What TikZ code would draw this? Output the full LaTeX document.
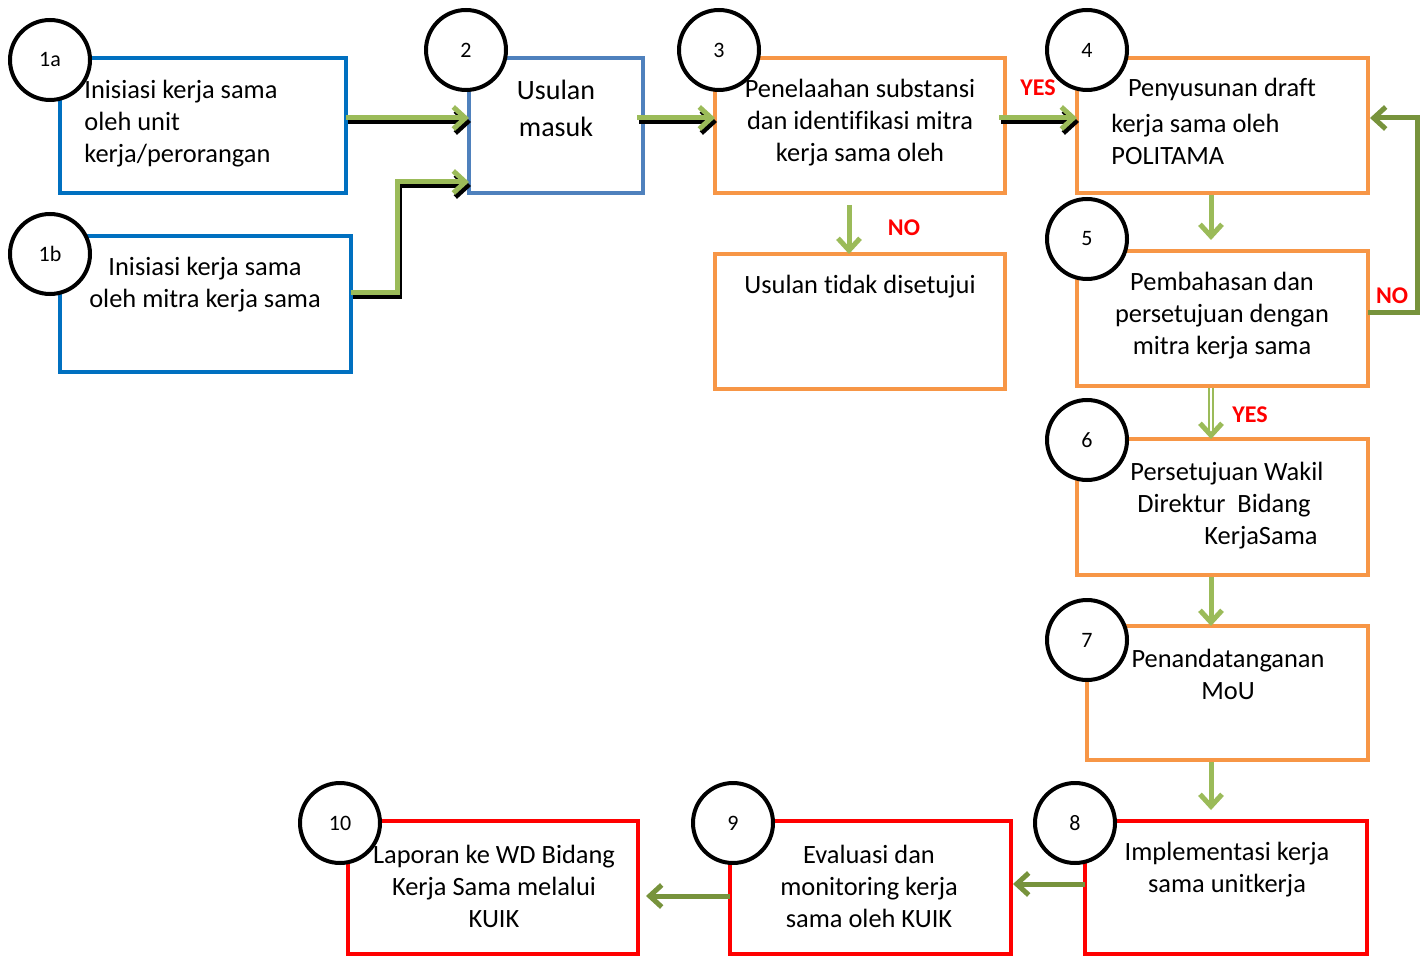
\documentclass[tikz,border=0pt]{standalone}
\usepackage{fontspec}
\setmainfont{Carlito}[Ligatures=NoCommon]
\usetikzlibrary{arrows.meta}
\definecolor{cblue}{HTML}{0070C0}
\definecolor{csteel}{HTML}{4F81BD}
\definecolor{corange}{HTML}{F79646}
\definecolor{cred}{HTML}{FF0000}
\definecolor{lgreen}{HTML}{9BBB59}
\definecolor{dgreen}{HTML}{77933C}
\tikzset{
  box/.style={draw, line width=2pt, fill=white, inner sep=0pt, outer sep=0pt},
  bluebox/.style={box, draw=cblue},
  steelbox/.style={box, draw=csteel},
  orangebox/.style={box, draw=corange},
  redbox/.style={box, draw=cred},
  numcirc/.style={circle, draw=black, line width=2pt, fill=white, minimum size=40pt, inner sep=0pt, font=\fontsize{11}{12}\selectfont},
  txt/.style={inner sep=0pt, font=\fontsize{13.2}{16}\selectfont, align=center},
  lbl/.style={inner sep=0pt, text=cred, font=\fontsize{12}{14}\selectfont\bfseries},
  tip/.style={-{Straight Barb[length=6pt,width=11pt,line width=2.5pt]}},
  shadowarrow/.style={tip, line width=2.5pt, draw=lgreen,
     preaction={draw=black, line width=2.5pt, transform canvas={xshift=1pt,yshift=-2pt}}},
  downarrow/.style={tip, line width=2.5pt, draw=lgreen},
  dblarrow/.style={-{Straight Barb[length=6pt,width=11pt,line width=2.5pt]}, draw=lgreen, double=white, double distance=1pt, line width=1pt},
  darkarrow/.style={tip, line width=2.5pt, draw=dgreen},
}
\begin{document}
\begin{tikzpicture}[x=0.5pt,y=-0.5pt]
\useasboundingbox (0,0) rectangle (1427,956);
% boxes
\node[bluebox, minimum width=143pt, minimum height=67.5pt] (b1a) at (203,125.5) {};
\node[bluebox, minimum width=145.5pt, minimum height=68pt] (b1b) at (205.5,304) {};
\node[steelbox, minimum width=87pt, minimum height=67.5pt] (b2) at (556,125.5) {};
\node[orangebox, minimum width=145pt, minimum height=67.5pt] (b3) at (860,125.5) {};
\node[orangebox, minimum width=145pt, minimum height=67.5pt] (bno) at (860,321.5) {};
\node[orangebox, minimum width=145.5pt, minimum height=67.5pt] (b4) at (1222.5,125.5) {};
\node[orangebox, minimum width=145.5pt, minimum height=67.5pt] (b5) at (1222.5,318.5) {};
\node[orangebox, minimum width=145.5pt, minimum height=68pt] (b6) at (1222.5,507) {};
\node[orangebox, minimum width=140.5pt, minimum height=67pt] (b7) at (1227.5,693) {};
\node[redbox, minimum width=141pt, minimum height=66.5pt] (b8) at (1226,887.5) {};
\node[redbox, minimum width=140.5pt, minimum height=66.5pt] (b9) at (870.5,887.5) {};
\node[redbox, minimum width=145pt, minimum height=66.5pt] (b10) at (493,887.5) {};
% circles
\node[numcirc] (c1a) at (50,60) {1a};
\node[numcirc] (c1b) at (50,254) {1b};
\node[numcirc] (c2) at (466,50) {2};
\node[numcirc] (c3) at (719,50) {3};
\node[numcirc] (c4) at (1087,50) {4};
\node[numcirc] (c5) at (1087,239) {5};
\node[numcirc] (c6) at (1087,440) {6};
\node[numcirc] (c7) at (1087,640) {7};
\node[numcirc] (c8) at (1075,823) {8};
\node[numcirc] (c9) at (733,823) {9};
\node[numcirc] (c10) at (340,823) {10};
% texts
\node[txt, anchor=west, align=left] (t1a) at (84,124) {Inisiasi kerja sama\\oleh unit\\kerja/perorangan};
\node[txt] (t1b) at (205,285) {Inisiasi kerja sama\\oleh mitra kerja sama};
\node[txt, font=\fontsize{14}{18.5}\selectfont] (t2) at (556,108) {Usulan\\masuk};
\node[txt] (t3) at (860,123) {Penelaahan substansi\\dan identifikasi mitra\\kerja sama oleh};
\node[txt] (tno) at (860,287) {Usulan tidak disetujui};
\node[txt] (t4a) at (1222,89) {Penyusunan draft};
\node[txt, anchor=west, align=left] (t4b) at (1111,139) {kerja sama oleh\\POLITAMA};
\node[txt] (t5) at (1222,316) {Pembahasan dan\\persetujuan dengan\\mitra kerja sama};
\node[txt, anchor=west, align=left] (t6) at (1130,506) {Persetujuan Wakil\\\hspace*{3.5pt}Direktur\ \ Bidang\\\hspace*{37pt}KerjaSama};
\node[txt] (t7) at (1228,674) {Penandatanganan\\MoU};
\node[txt] (t8) at (1227,870) {Implementasi kerja\\sama unitkerja};
\node[txt] (t9) at (869,886) {Evaluasi dan\\monitoring kerja\\sama oleh KUIK};
\node[txt] (t10) at (494,886) {Laporan ke WD Bidang\\Kerja Sama melalui\\KUIK};
% labels
\node[lbl] (yes1) at (1038,88) {YES};
\node[lbl] (no1) at (904,228) {NO};
\node[lbl] (no2) at (1392,296) {NO};
\node[lbl] (yes2) at (1250,415) {YES};
% arrows
\draw[shadowarrow] ([yshift=3.75pt]b1a.east) -- ([yshift=3.75pt]b2.west);
\draw[shadowarrow] ([yshift=5.5pt]b1b.east) -- ++(46,0) |- ([yshift=-28.25pt]b2.west);
\draw[shadowarrow] ([yshift=3.75pt,xshift=-3pt]b2.east) -- ([yshift=3.75pt]b3.west);
\draw[shadowarrow] ([yshift=3.75pt,xshift=-3pt]b3.east) -- ([yshift=3.75pt]b4.west);
\draw[downarrow, shorten <=6pt] ([xshift=-5.5pt]b3.south) -- ([xshift=-5.5pt]bno.north);
\draw[downarrow, shorten <=1pt, shorten >=5.5pt] ([xshift=-5.75pt]b4.south) -- ([xshift=-5.75pt]b5.north);
\draw[dblarrow, shorten <=1pt] ([xshift=-5.75pt]b5.south) -- ([xshift=-5.75pt]b6.north);
\draw[downarrow, shorten <=1pt] ([xshift=-5.75pt]b6.south) -- ([xshift=-5.75pt]b7.north -| b6.south);
\draw[downarrow, shorten <=1pt, shorten >=5.5pt] ([xshift=-5.75pt]b7.south -| b6.south) -- ([xshift=-7.5pt]b8.north);
\draw[darkarrow] ([yshift=2.75pt]b5.east) -- ++(49,0) |- ([yshift=3.75pt,xshift=1pt]b4.east);
\draw[darkarrow] ([yshift=1.75pt]b8.west) -- ([yshift=1.75pt,xshift=1pt]b9.east);
\draw[darkarrow, shorten >=4pt] ([yshift=-4.25pt]b9.west) -- ([yshift=-4.25pt]b10.east);
\end{tikzpicture}
\end{document}
